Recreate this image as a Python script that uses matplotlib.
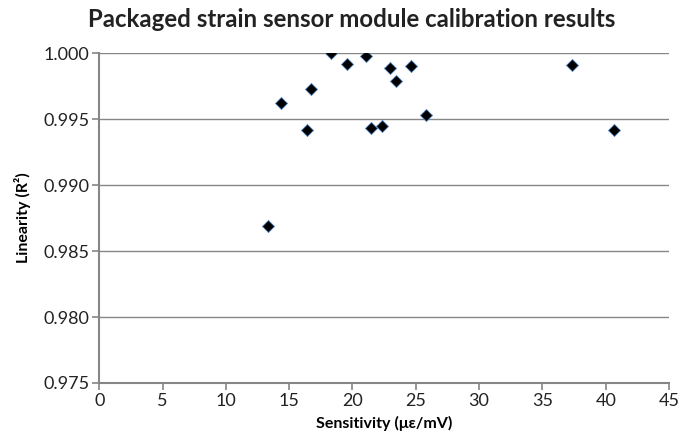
import matplotlib
matplotlib.use('Agg')
import matplotlib.pyplot as plt
from matplotlib.ticker import FormatStrFormatter

# Calibration results
sensitivity = [13.33, 14.33, 16.38, 16.75, 18.30, 19.59, 21.07, 21.46,
               22.33, 22.99, 23.44, 24.64, 25.81, 37.36, 40.68]
linearity = [0.9869, 0.9962, 0.9942, 0.9973, 1.0000, 0.9992, 0.9998, 0.9943,
             0.9945, 0.9989, 0.9979, 0.9990, 0.9953, 0.9991, 0.9942]

x_ticks = [0, 5, 10, 15, 20, 25, 30, 35, 40, 45]
y_ticks = [0.975, 0.980, 0.985, 0.990, 0.995, 1.000]

plt.rcParams['font.family'] = ['Lato', 'DejaVu Sans']
grey = '#868686'

fig = plt.figure(figsize=(6.94, 4.42), dpi=100)
ax = fig.add_axes([0.143, 0.1335, 0.821, 0.7465])

ax.plot(sensitivity, linearity, linestyle='none', marker='D', markersize=6,
        markerfacecolor='black', markeredgecolor='#4a7ebb', markeredgewidth=0.6,
        zorder=3)

ax.set_xlim(0, 45)
ax.set_ylim(0.975, 1.000)
ax.set_xticks(x_ticks)
ax.set_yticks(y_ticks)
ax.yaxis.set_major_formatter(FormatStrFormatter('%.3f'))

ax.grid(axis='y', color=grey, linewidth=1)
ax.set_axisbelow(True)
for side in ['top', 'right']:
    ax.spines[side].set_visible(False)
for side in ['left', 'bottom']:
    ax.spines[side].set_color(grey)
    ax.spines[side].set_linewidth(1.5)
ax.tick_params(axis='both', colors=grey, labelcolor='#222222', labelsize=13,
               length=5, width=1.2, direction='out', pad=2)

ax.set_xlabel('Sensitivity (\u03bc\u03b5/mV)', fontsize=11.5, fontweight='bold', labelpad=5)
ax.set_ylabel('Linearity (R\u00b2)', fontsize=11.5, fontweight='bold', labelpad=9)
fig.text(0.507, 0.957, 'Packaged strain sensor module calibration results',
         fontsize=17.3, fontweight='bold', ha='center', va='center', color='#222222')

fig.savefig('out.png', dpi=100)
